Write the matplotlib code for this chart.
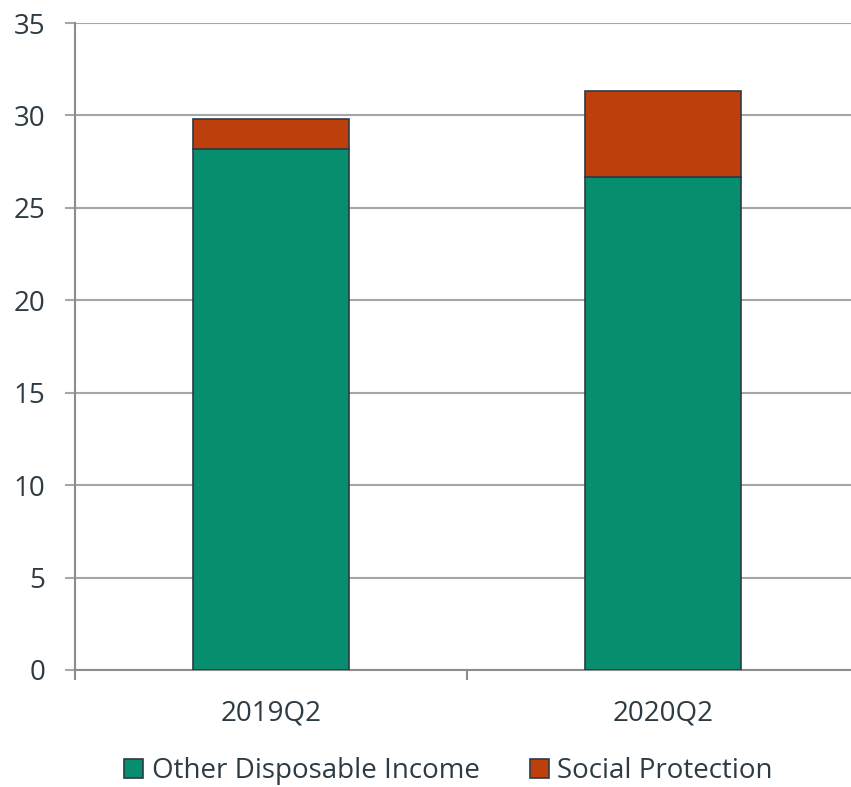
import matplotlib.pyplot as plt
import numpy as np

plt.rcParams['font.family'] = ['Open Sans', 'DejaVu Sans']

# data
quarters = ['2019Q2', '2020Q2']
other_income = [28.2, 26.65]
social_protection = [1.6, 4.65]

green = '#068e6e'
orange = '#bd3f0b'
edge = '#2d3b45'
text_col = '#2d3b45'
grid_col = '#a6a6a6'

fig = plt.figure(figsize=(8.51, 7.87), dpi=100)
ax = fig.add_axes([75/851, 117/787, 784/851, 647/787])

x = np.arange(len(quarters))
ax.bar(x, other_income, width=0.4, color=green, edgecolor=edge, linewidth=1.2,
       label='Other Disposable Income', zorder=3)
ax.bar(x, social_protection, width=0.4, bottom=other_income, color=orange,
       edgecolor=edge, linewidth=1.2, label='Social Protection', zorder=3)

ax.set_xlim(-0.5, 1.5)
ax.set_ylim(0, 35)
ax.set_yticks(np.arange(0, 36, 5))
ax.yaxis.grid(True, color=grid_col, linewidth=1.5, zorder=0)
ax.set_axisbelow(True)

for s in ['top', 'right']:
    ax.spines[s].set_visible(False)
for s in ['left', 'bottom']:
    ax.spines[s].set_color('#8c8c8c')
    ax.spines[s].set_linewidth(1.5)

ax.set_xticks(x)
ax.set_xticklabels(quarters)
ax.set_xticks([-0.5, 0.5, 1.5], minor=True)
ax.tick_params(axis='x', which='major', length=0, pad=21, labelsize=20, labelcolor=text_col)
ax.tick_params(axis='x', which='minor', length=7.5, width=1.5, color='#8c8c8c', direction='out')
ax.tick_params(axis='y', length=7.5, width=1.5, color='#a6a6a6', pad=14, labelsize=20,
               labelcolor=text_col)

leg = fig.legend(loc='center', bbox_to_anchor=(0.527, 16/787), ncol=2,
                 frameon=False, fontsize=20, handlelength=0.7, handleheight=0.7,
                 handletextpad=0.3, columnspacing=1.8, labelcolor=text_col,
                 borderpad=0.2)

fig.savefig('out.png', dpi=100)
